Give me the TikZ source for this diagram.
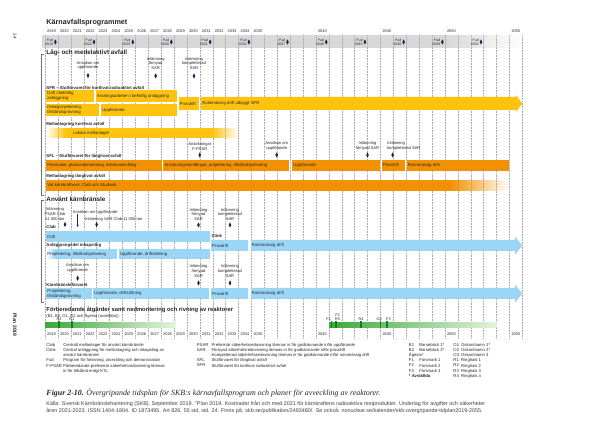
\documentclass[tikz,border=0pt]{standalone}
\usepackage{fontspec}
\setmainfont{Liberation Sans}
\newfontfamily\capfont{Liberation Serif}
\usetikzlibrary{fadings,shapes.geometric,arrows.meta}
\definecolor{lmagul}{RGB}{255,194,14}
\definecolor{sflorange}{RGB}{242,146,0}
\definecolor{kbblue}{RGB}{155,214,246}
\definecolor{fudgray}{RGB}{216,216,216}
\definecolor{msblue}{RGB}{12,42,92}
\definecolor{rivgreen}{RGB}{60,168,60}
\definecolor{rivlight}{RGB}{228,242,220}
\definecolor{markgreen}{RGB}{18,130,40}
\tikzfading[name=fade right, left color=transparent!0, right color=transparent!100]
\tikzfading[name=fade left, left color=transparent!100, right color=transparent!0]
\begin{document}
\begin{tikzpicture}[x=12.9pt,y=-1pt,
	every node/.style={inner sep=0pt, text=black!85},
	yrline/.style={black!35, line width=.3pt, dash pattern=on .8pt off .8pt},
	yrtxt/.style={font=\fontsize{3.9}{4}\selectfont},
	fudtxt/.style={font=\fontsize{3.6}{4.3}\selectfont, align=right, anchor=east},
	bartxt/.style={anchor=west, font=\fontsize{4.3}{4.9}\selectfont, align=left, xshift=1pt},
	mstxt/.style={font=\fontsize{4.1}{4.8}\selectfont, align=center},
	msdia/.style={diamond, fill=msblue, minimum width=2.8pt, minimum height=5.4pt},
	subhead/.style={anchor=west, font=\bfseries\fontsize{4.3}{5}\selectfont},
	mainhead/.style={anchor=west, font=\bfseries\fontsize{6.3}{7}\selectfont},
	legtxt/.style={anchor=north west, font=\fontsize{4.2}{5.2}\selectfont, align=left},
	brk/.style={black!55, line width=.4pt},
	rmark/.style={fill=markgreen},
	rtxt/.style={font=\fontsize{3.8}{4}\selectfont}]
	\useasboundingbox[fill=white] (15.5116,0) rectangle (62.0233,435);
	\node[rotate=-90, font=\fontsize{4.5}{5}\selectfont] (sida) at (16.67,36.5) {24};
	\node[rotate=-90, font=\bfseries\fontsize{5}{6}\selectfont] (plan) at (16.67,325) {Plan 2019};
	\node[anchor=west, font=\bfseries\fontsize{7.2}{8}\selectfont] (titel) at (19.1,23) {Kärnavfallsprogrammet};
	\fill[fudgray] (18.75,35.5) rectangle (50,48);
	\fill[fudgray, path fading=fade right] (50,35.5) rectangle (56,48);
	\foreach \yr in {19,...,56}
		\draw[yrline] (\yr,35.5) -- (\yr,338);
	\foreach \yr in {19,...,35,40,45,50,55} {
		\node[yrtxt] (yt\yr) at (\yr+.5,31.5) {20\yr};
		\node[yrtxt] (yb\yr) at (\yr+.5,334) {20\yr};
	}
	\foreach \yr in {19,22,...,52} {
		\node[msdia] (fud\yr) at (\yr+.8,42) {};
		\node[fudtxt] (fudl\yr) at (\yr+.64,42) {Fud\\20\yr};
	}
	% Låg- och medelaktivt avfall
	\draw[brk] (18.95,54) -- (18.73,54) -- (18.73,195) -- (18.95,195);
	\node[mainhead] (lma) at (19.1,53) {Låg- och medelaktivt avfall};
	\node[mstxt] (lmaans) at (22.33,65.5) {Ansökan om\\uppförande};
	\node[msdia] (lmaansd) at (22.33,75.5) {};
	\node[mstxt] (lmafsar) at (27.58,63.5) {Inlämning\\förnyad\\SAR};
	\node[msdia] (lmafsard) at (27.58,76) {};
	\node[mstxt] (lmaksar) at (30.55,63.5) {Inlämning\\kompletterad\\SAR};
	\node[msdia] (lmaksard) at (30.55,76) {};
	\node[subhead] (sfr) at (19.1,87.5) {SFR – Slutförvaret för kortlivat radioaktivt avfall};
	\fill[lmagul] (19.1,90) rectangle (22.8,102);
	\node[bartxt] (sfr1) at (19.1,96) {Drift i befintlig\\anläggning};
	\fill[lmagul] (22.95,90) rectangle (29.2,102);
	\node[bartxt] (sfr2) at (22.95,96) {Ändringsarbeten i befintlig anläggning};
	\fill[lmagul] (19.1,104) rectangle (23.2,116.5);
	\node[bartxt] (sfr3) at (19.1,110.25) {Detaljprojektering,\\tillståndsprövning};
	\fill[lmagul] (23.35,104) rectangle (29.2,116.5);
	\node[bartxt] (sfr4) at (23.35,110.25) {Uppförande};
	\fill[lmagul] (29.35,97) rectangle (30.95,110);
	\node[bartxt] (sfr5) at (29.35,103.5) {Provdrift};
	\fill[lmagul] (31.1,97) -- (55.5,97) -- (55.5,95) -- (56,103.5) -- (55.5,112) -- (55.5,110) -- (31.1,110) -- cycle;
	\node[bartxt] (sfr6) at (31.1,103.5) {Rutinmässig drift utbyggt SFR};
	\node[subhead] (mlk) at (19.1,124) {Mellanlagring kortlivat avfall};
	\fill[lmagul, path fading=fade left] (19.1,128.3) rectangle (20.6,138.3);
	\fill[lmagul] (20.6,128.3) rectangle (31.9,138.3);
	\fill[lmagul, path fading=fade right] (31.9,128.3) rectangle (34,138.3);
	\node[bartxt] (mlk1) at (21.1,133.3) {Lokala mellanlager};
	\node[mstxt] (sflpsar) at (31,146.3) {Ansökningar\\F-PSAR};
	\node[msdia] (sflpsard) at (31,155) {};
	\node[mstxt] (sflans) at (36.96,146.3) {Ansökan om\\uppförande};
	\node[msdia] (sflansd) at (36.96,155) {};
	\node[mstxt] (sflfsar) at (44,146.3) {Inlämning\\förnyad SAR};
	\node[msdia] (sflfsard) at (44,155) {};
	\node[mstxt, align=left, anchor=west] (sflksar) at (45.51,146.3) {Inlämning\\kompletterad SAR};
	\node[msdia] (sflksard) at (45.95,155) {};
	\node[subhead] (sfl) at (19.1,156.5) {SFL – Slutförvaret för långlivat avfall};
	\fill[sflorange] (19.1,160) rectangle (28.05,170.7);
	\node[bartxt] (sfl1) at (19.1,165.35) {Förstudier, platsundersökning, teknikutveckling};
	\fill[sflorange] (28.18,160) rectangle (37.9,170.7);
	\node[bartxt] (sfl2) at (28.18,165.35) {Ansökningshandlingar, projektering, tillståndsprövning};
	\fill[sflorange] (38.17,160) rectangle (45,170.7);
	\node[bartxt] (sfl3) at (38.17,165.35) {Uppförande};
	\fill[sflorange] (45.1,160) rectangle (46.9,170.7);
	\node[bartxt] (sfl4) at (45.1,165.35) {Provdrift};
	\fill[sflorange] (47.04,160) rectangle (54.97,170.7);
	\node[bartxt] (sfl5) at (47.04,165.35) {Rutinmässig drift};
	\node[subhead] (mll) at (19.1,176) {Mellanlagring långlivat avfall};
	\fill[sflorange] (19.1,180) rectangle (50.4,191);
	\fill[sflorange, path fading=fade right] (50.4,180) rectangle (55,191);
	\node[bartxt] (mll1) at (19.1,185.5) {Vid kärnkraftverk, Clab och Studsvik};
	% Använt kärnbränsle
	\draw[brk] (18.95,200) -- (18.73,200) -- (18.73,302) -- (18.95,302);
	\node[mainhead] (akb) at (19.1,199.5) {Använt kärnbränsle};
	\node[mstxt] (clabpsar) at (19.77,214) {Inlämning\\PSAR Clab\\11~000 ton};
	\node[msdia] (clabpsard) at (20.55,224.5) {};
	\node[mstxt, anchor=west] (clabans) at (21.14,212) {Ansökan om uppförande};
	\coordinate (clabpil) at (21.53,227);
	\draw[msblue, line width=.45pt, -{Stealth[length=2.4pt,width=2.2pt]}] (clabans.south -| clabpil) -- (clabpil);
	\node[mstxt, anchor=west] (clabsar) at (22.1,219.3) {Inlämning SAR Clab 11~000 ton};
	\node[msdia] (clabsard) at (23,224.5) {};
	\node[mstxt] (clabfsar) at (30.9,214.5) {Inlämning\\förnyad\\SAR};
	\node[msdia] (clabfsard) at (30.9,225) {};
	\node[mstxt] (clabksar) at (33.34,214.5) {Inlämning\\kompletterad\\SAR};
	\node[msdia] (clabksard) at (33.34,225) {};
	\node[subhead] (clab) at (19.1,227) {Clab};
	\fill[kbblue] (19.1,231) rectangle (31.8,242);
	\node[bartxt] (clab1) at (19.1,236.5) {Drift};
	\node[subhead] (clink) at (31.9,236) {Clink};
	\fill[kbblue] (31.87,240) rectangle (34.74,251);
	\node[bartxt] (clink1) at (31.87,245.5) {Provdrift};
	\fill[kbblue] (34.95,240) -- (55.45,240) -- (55.45,236.5) -- (56,245.5) -- (55.45,254.5) -- (55.45,251) -- (34.95,251) -- cycle;
	\node[bartxt] (clink2) at (34.95,245.5) {Rutinmässig drift};
	\node[subhead] (inkap) at (19.1,245) {Anläggningsdel inkapsling};
	\fill[kbblue, path fading=fade left] (19.1,249) rectangle (19.8,259.3);
	\fill[kbblue] (19.8,249) rectangle (24.58,259.3);
	\node[bartxt] (inkap1) at (19.1,254.15) {Projektering, tillståndsprövning};
	\fill[kbblue] (24.73,249) rectangle (31.8,259.3);
	\node[bartxt] (inkap2) at (24.73,254.15) {Uppförande, driftsättning};
	\node[mstxt] (kbfans) at (21.53,268.3) {Ansökan om\\uppförande};
	\node[msdia] (kbfansd) at (21.53,278.3) {};
	\node[mstxt] (kbffsar) at (30.9,270.8) {Inlämning\\förnyad\\SAR};
	\node[msdia] (kbffsard) at (30.9,283) {};
	\node[mstxt] (kbfksar) at (33.34,270.8) {Inlämning\\kompletterad\\SAR};
	\node[msdia] (kbfksard) at (33.34,283) {};
	\node[subhead] (kbf) at (19.1,285) {Kärnbränsleförvaret};
	\fill[kbblue] (19.1,288) rectangle (22.62,299);
	\node[bartxt] (kbf1) at (19.1,293.5) {Projektering,\\tillståndsprövning};
	\fill[kbblue] (22.74,288) rectangle (31.74,299);
	\node[bartxt] (kbf2) at (22.74,293.5) {Uppförande, driftsättning};
	\fill[kbblue] (31.87,288) rectangle (34.74,299);
	\node[bartxt] (kbf3) at (31.87,293.5) {Provdrift};
	\fill[kbblue] (34.95,288) -- (55.45,288) -- (55.45,284.5) -- (56,293.5) -- (55.45,302.5) -- (55.45,299) -- (34.95,299) -- cycle;
	\node[bartxt] (kbf4) at (34.95,293.5) {Rutinmässig drift};
	% Förberedande åtgärder och rivning
	\node[anchor=west, font=\bfseries\fontsize{5.8}{6}\selectfont] (riv) at (19.1,310) {Förberedande åtgärder samt nedmontering och rivning av reaktorer};
	\node[anchor=west, font=\fontsize{4.1}{5}\selectfont] (riv0) at (19.1,316) {(B1, B2, O1, O2 och Ågesta (avställda))};
	\shade[left color=rivgreen, right color=rivlight] (19,322.5) rectangle (29.1,327.5);
	\shade[left color=rivgreen, right color=rivlight] (41.04,322.5) rectangle (54,327.5);
	\foreach \rx/\rn in {20.1/r2,21.1/r1,41.2/f1,41.56/r3,43.5/r4,45/o3,45.5/f3}
		\fill[rmark] (\rx-.06,321.5) rectangle (\rx+.06,328.5);
	\node[rtxt] (r2) at (20.08,319.5) {R2};
	\node[rtxt] (r1) at (21.07,319.5) {R1};
	\node[rtxt] (f1) at (40.98,319.5) {F1};
	\node[rtxt] (r3) at (41.68,319.5) {R3};
	\node[rtxt] (f2) at (41.68,314.8) {F2};
	\node[rtxt] (r4) at (43.5,319.5) {R4};
	\node[rtxt] (o3) at (44.9,319.5) {O3};
	\node[rtxt] (f3) at (45.62,319.5) {F3};
	% Förklaringar
	\node[legtxt] (lclab) at (19.1,343) {Clab\\Clink\\\\Fud\\F-PSAR};
	\node[legtxt] (lclabt) at (20.4,343) {Centralt mellanlager för använt kärnbränsle\\Central anläggning för mellanlagring och inkapsling av\\använt kärnbränsle\\Program för forskning, utveckling och demonstration\\Förberedande preliminär säkerhetsredovisning lämnas\\in för tillstånd enligt KTL};
	\node[legtxt] (lpsar) at (30.76,343) {PSAR\\SAR\\\\SFL\\SFR};
	\node[legtxt] (lpsart) at (31.9,343) {Preliminär säkerhetsredovisning lämnas in för godkännande inför uppförande\\Förnyad säkerhetsredovisning lämnas in för godkännande inför provdrift\\Kompletterad säkerhetsredovisning lämnas in för godkännande inför rutinmässig drift\\Slutförvaret för långlivat avfall\\Slutförvaret för kortlivat radioaktivt avfall};
	\node[legtxt] (lreak) at (47.2,343) {B1\\B2\\Ågesta*\\F1\\F2\\F3\\\textbf{* Avställda}};
	\node[legtxt] (lreakt) at (48.0,343) {Barsebäck 1*\\Barsebäck 2*\\\\Forsmark 1\\Forsmark 2\\Forsmark 3};
	\node[legtxt] (lreak2) at (50.65,343) {O1\\O2\\O3\\R1\\R2\\R3\\R4};
	\node[legtxt] (lreak2t) at (51.25,343) {Oskarshamn 1*\\Oskarshamn 2*\\Oskarshamn 3\\Ringhals 1\\Ringhals 2\\Ringhals 3\\Ringhals 4};
	% Bildtext
	\node[anchor=west, font=\capfont\itshape\fontsize{7.9}{8}\selectfont] (figcap) at (19.1,393) {\textbf{Figur 2-10.} Övergripande tidsplan för SKB:s kärnavfallsprogram och planer för avveckling av reaktorer.};
	\node[anchor=north west, align=left, font=\fontsize{5.4}{7}\selectfont, text=black!75] (kalla) at (19.1,400.5) {Källa: Svensk Kärnbränslehantering (SKB). September 2019. "Plan 2019. Kostnader från och med 2021 för kärnkraftens radioaktiva restprodukter. Underlag för avgifter och säkerheter\\åren 2021-2023. ISSN 1404-1804. ID 1873495. Art 826. 55 sid, sid. 24. Finns på: skb.se/publikation/2493480/. Se också: nonuclear.se/kalender/skb-overgripande-tidplan2019-2055.};
\end{tikzpicture}
\end{document}
